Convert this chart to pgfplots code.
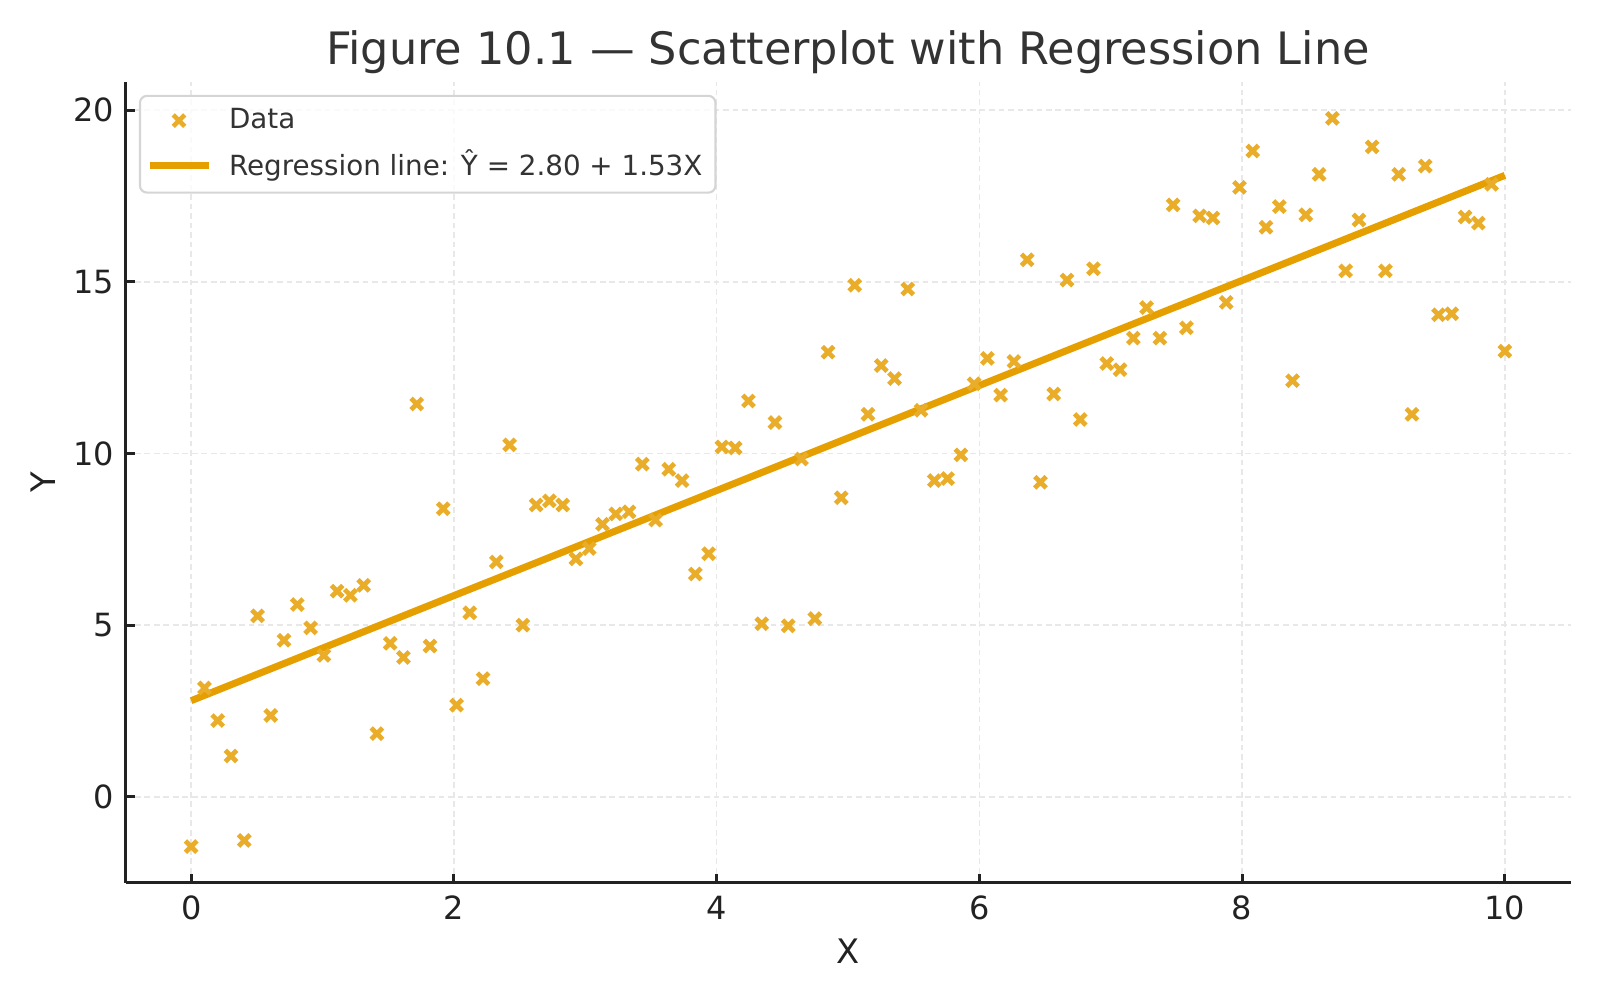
\documentclass[border=0pt]{standalone}
\usepackage{fontspec}
\setmainfont{DejaVu Sans}
\usepackage{pgfplots}
\pgfplotsset{compat=1.18}
\definecolor{lineor}{HTML}{E69F00}
\definecolor{markor}{HTML}{EAAD2A}
\definecolor{gridc}{HTML}{E8E8E8}
\definecolor{txt}{HTML}{222222}
\definecolor{ttl}{HTML}{333333}
\definecolor{legedge}{HTML}{D5D5D5}
\pgfplotstableread{
x y
0.000 -1.45
0.101 3.17
0.202 2.22
0.303 1.19
0.404 -1.27
0.505 5.27
0.606 2.37
0.707 4.56
0.808 5.60
0.909 4.92
1.010 4.12
1.111 5.99
1.212 5.87
1.313 6.16
1.414 1.84
1.515 4.47
1.616 4.06
1.717 11.44
1.818 4.39
1.919 8.39
2.020 2.67
2.121 5.36
2.222 3.44
2.323 6.84
2.424 10.25
2.525 5.00
2.626 8.50
2.727 8.62
2.828 8.50
2.929 6.93
3.030 7.23
3.131 7.94
3.232 8.24
3.333 8.30
3.434 9.69
3.535 8.06
3.636 9.54
3.737 9.21
3.838 6.49
3.939 7.08
4.040 10.19
4.141 10.16
4.242 11.53
4.343 5.04
4.444 10.90
4.545 4.98
4.646 9.84
4.747 5.19
4.848 12.95
4.949 8.71
5.051 14.90
5.152 11.14
5.253 12.56
5.354 12.18
5.455 14.79
5.556 11.26
5.657 9.21
5.758 9.27
5.859 9.96
5.960 12.03
6.061 12.77
6.162 11.70
6.263 12.68
6.364 15.64
6.465 9.16
6.566 11.73
6.667 15.05
6.768 10.99
6.869 15.38
6.970 12.62
7.071 12.44
7.172 13.36
7.273 14.25
7.374 13.36
7.475 17.24
7.576 13.66
7.677 16.92
7.778 16.86
7.879 14.40
7.980 17.75
8.081 18.81
8.182 16.59
8.283 17.19
8.384 12.12
8.485 16.95
8.586 18.13
8.687 19.76
8.788 15.32
8.889 16.80
8.990 18.93
9.091 15.32
9.192 18.13
9.293 11.14
9.394 18.37
9.495 14.04
9.596 14.07
9.697 16.89
9.798 16.71
9.899 17.84
10.000 12.98
}\datatable
\begin{document}
\begin{tikzpicture}
\path[use as bounding box] (0,0) rectangle (16,10);
\begin{axis}[
  at={(1.255cm,1.17cm)}, anchor=south west,
  width=14.45cm, height=8.01cm, scale only axis,
  xmin=-0.5, xmax=10.5, ymin=-2.51, ymax=20.82,
  xtick={0,2,...,10}, ytick={0,5,...,20},
  axis x line*=bottom, axis y line*=left,
  axis line style={line width=0.85pt, draw=txt, -},
  tick align=inside,
  major tick length=0.09cm,
  tick style={line width=0.85pt, draw=txt},
  grid=major,
  grid style={draw=gridc, line width=0.4pt, dash pattern=on 1.6pt off 1.1pt},
  /pgf/number format/assume math mode=true,
  tick label style={font=\fontsize{9.1}{11}\selectfont, text=txt, inner sep=0pt},
  xticklabel style={anchor=north, yshift=-0.12cm},
  yticklabel style={anchor=east, xshift=-0.107cm},
  title={Figure 10.1 — Scatterplot with Regression Line},
  every axis title/.style={at={(axis description cs:0.5,1)}, anchor=base, yshift=0.17cm,
    font=\fontsize{12.7}{15}\selectfont, text=ttl, inner sep=0pt},
  xlabel={X}, ylabel={Y},
  every axis x label/.style={at={(axis description cs:0.5,0)}, anchor=center, yshift=-0.68cm,
    font=\fontsize{9.6}{11}\selectfont, text=txt},
  every axis y label/.style={at={(axis description cs:0,0.5)}, anchor=center, rotate=90, yshift=0.825cm,
    font=\fontsize{9.6}{11}\selectfont, text=txt},
  legend image code/.code={\draw[mark repeat=2,mark phase=2,#1] plot coordinates {(0cm,0cm) (0.295cm,0cm) (0.59cm,0cm)};},
  legend cell align=left,
  legend style={at={(0.0093,0.984)}, anchor=north west, draw=legedge, line width=0.6pt,
    rounded corners=2pt, fill=white, fill opacity=0.8, text opacity=1,
    font=\fontsize{7.9}{9.5}\selectfont, text=ttl,
    inner xsep=0.06cm, inner ysep=0.05cm, row sep=0.02cm, column sep=0.1cm},
]
\addplot[only marks, mark=x, mark size=2.3pt, mark options={line width=1.35pt, draw=markor}, draw=markor] table[x=x,y=y] {\datatable};
\addlegendentry{Data}
\addplot[lineor, line width=2pt] coordinates {(0,2.80) (10,18.10)};
\addlegendentry{Regression line: Ŷ = 2.80 + 1.53X}
\end{axis}
\end{tikzpicture}
\end{document}
